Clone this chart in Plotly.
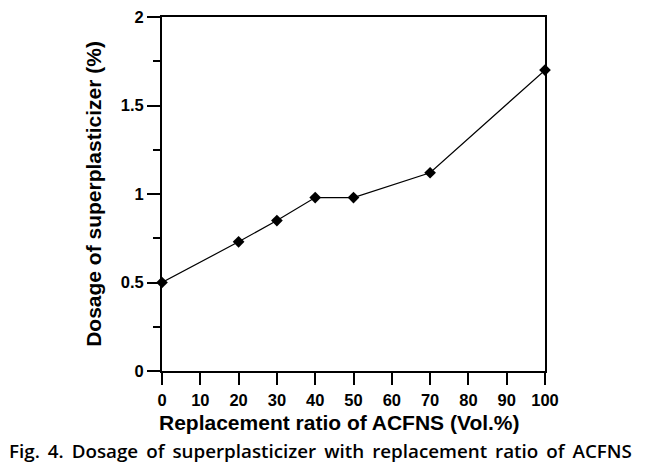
import plotly.graph_objects as go

replacement_ratio = [0, 20, 30, 40, 50, 70, 100]
dosage = [0.50, 0.73, 0.85, 0.98, 0.98, 1.12, 1.70]
x_ticks = [0, 10, 20, 30, 40, 50, 60, 70, 80, 90, 100]
y_ticks = [0, 0.5, 1, 1.5, 2]
y_tick_labels = ["0", "0.5", "1", "1.5", "2"]

x_title = "Replacement ratio of ACFNS (Vol.%)"
y_title = "Dosage of superplasticizer (%)"
caption_words = ["Fig.", "4.", "Dosage", "of", "superplasticizer", "with",
                 "replacement", "ratio", "of", "ACFNS"]

fig = go.Figure()
fig.add_trace(go.Scatter(
    x=replacement_ratio, y=dosage, mode="lines+markers",
    line=dict(color="black", width=1.2),
    marker=dict(symbol="diamond", size=9, color="black"),
    cliponaxis=False, showlegend=False, hoverinfo="skip",
))

tick_font = dict(family="Liberation Sans, Arial", size=16.5, color="black", weight="bold")
title_font = dict(family="Liberation Sans, Arial", size=21, color="black", weight="bold")

fig.update_layout(
    width=649, height=465,
    margin=dict(l=162, r=104, t=17, b=94, autoexpand=False),
    paper_bgcolor="white", plot_bgcolor="white",
    xaxis=dict(
        range=[0, 100], tickvals=x_ticks, ticktext=[str(v) for v in x_ticks],
        ticks="outside", ticklen=12, tickwidth=2, tickcolor="black",
        ticklabelstandoff=1,
        showline=True, linewidth=2, linecolor="black", mirror=True,
        showgrid=False, zeroline=False, tickfont=tick_font, automargin=False,
    ),
    yaxis=dict(
        range=[0, 2], tickvals=y_ticks, ticktext=y_tick_labels,
        ticks="outside", ticklen=13, tickwidth=2, tickcolor="black",
        minor=dict(dtick=0.25, tick0=0, ticks="outside", ticklen=7, tickwidth=2, tickcolor="black"),
        showline=True, linewidth=2, linecolor="black", mirror=True,
        showgrid=False, zeroline=False, tickfont=tick_font, automargin=False,
        title=dict(text=y_title, font=title_font, standoff=13),
    ),
)

fig.add_annotation(
    text=x_title, xref="paper", yref="paper",
    x=0.5, y=0, xanchor="center", yanchor="middle",
    xshift=-14, yshift=-51, showarrow=False,
    font=dict(family="Liberation Sans, Arial", size=21, color="black", weight="bold"),
)

fig.add_annotation(
    text=("\u00a0\u2009").join(caption_words), xref="paper", yref="paper",
    x=0.5, y=0, xanchor="center", yanchor="middle",
    yshift=-80, xshift=-33, showarrow=False,
    font=dict(family="Open Sans", size=18.8, color="black", weight=600),
)

fig.write_html("out.html", config={"displayModeBar": False},
               post_script="document.body.style.margin='0';")
